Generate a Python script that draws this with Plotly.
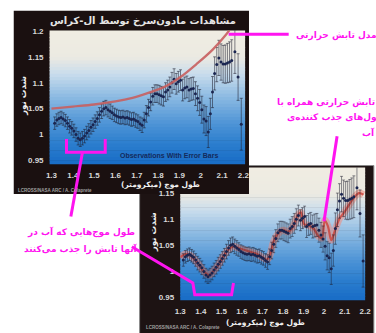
import plotly.graph_objects as go

W, H = 376, 333

# ---------------- data ----------------
obs_wavelength = [1.315, 1.325, 1.335, 1.345, 1.355, 1.365, 1.375, 1.385, 1.395, 1.405,
                  1.415, 1.425, 1.435, 1.445, 1.455, 1.465, 1.475, 1.485, 1.495, 1.505,
                  1.515, 1.525, 1.535, 1.545, 1.555, 1.565, 1.575, 1.585, 1.595, 1.605,
                  1.615, 1.625, 1.635, 1.645, 1.655, 1.665, 1.675, 1.685, 1.695, 1.705,
                  1.715, 1.725, 1.735, 1.745, 1.755, 1.765, 1.775, 1.785, 1.795, 1.805,
                  1.815, 1.825, 1.835, 1.845, 1.855, 1.865, 1.875, 1.885, 1.895, 1.905,
                  1.915, 1.925, 1.935, 1.945, 1.955, 1.965, 1.975, 1.985, 1.995, 2.005,
                  2.015, 2.025, 2.035, 2.045, 2.055, 2.065, 2.075, 2.085, 2.095, 2.105,
                  2.115, 2.125, 2.135, 2.145, 2.160, 2.175, 2.190]
obs_intensity = [1.022, 1.028, 1.031, 1.033, 1.030, 1.027, 1.022, 1.016, 1.012, 1.007,
                 1.000, 0.993, 0.990, 0.993, 0.997, 1.003, 1.008, 1.014, 1.019, 1.025,
                 1.031, 1.038, 1.045, 1.050, 1.052, 1.048, 1.045, 1.042, 1.038, 1.036,
                 1.034, 1.033, 1.034, 1.032, 1.033, 1.031, 1.029, 1.030, 1.027, 1.025,
                 1.021, 1.018, 1.028, 1.040, 1.052, 1.063, 1.074, 1.079, 1.079, 1.077,
                 1.075, 1.073, 1.082, 1.086, 1.092, 1.100, 1.107, 1.098, 1.102, 1.105,
                 1.086, 1.090, 1.092, 1.086, 1.088, 1.089, 1.079, 1.070, 1.062, 1.048,
                 1.030, 1.026, 1.005, 1.040, 1.082, 1.118, 1.135, 1.148, 1.140, 1.136,
                 1.136, 1.138, 1.140, 1.143, 1.160, 1.111, 1.020]
obs_error = [0.012, 0.012, 0.012, 0.012, 0.012, 0.012, 0.012, 0.013, 0.013, 0.013,
             0.013, 0.013, 0.013, 0.013, 0.013, 0.013, 0.013, 0.013, 0.013, 0.013,
             0.013, 0.014, 0.014, 0.014, 0.014, 0.014, 0.014, 0.013, 0.013, 0.013,
             0.013, 0.013, 0.013, 0.013, 0.013, 0.013, 0.013, 0.013, 0.013, 0.013,
             0.013, 0.014, 0.015, 0.016, 0.016, 0.017, 0.017, 0.017, 0.017, 0.018,
             0.018, 0.018, 0.018, 0.019, 0.019, 0.020, 0.020, 0.020, 0.020, 0.020,
             0.021, 0.021, 0.021, 0.022, 0.022, 0.022, 0.023, 0.024, 0.025, 0.026,
             0.027, 0.028, 0.030, 0.030, 0.030, 0.032, 0.033, 0.034, 0.035, 0.036,
             0.037, 0.038, 0.039, 0.040, 0.042, 0.045, 0.050]

thermal_wavelength = [1.30, 1.40, 1.50, 1.60, 1.68, 1.75, 1.83, 1.905, 1.98, 2.056, 2.117, 2.14]
thermal_intensity = [1.050, 1.054, 1.058, 1.064, 1.071, 1.080, 1.092, 1.111, 1.136, 1.164, 1.192, 1.205]

absorb_wavelength = [1.300, 1.323, 1.347, 1.370, 1.394, 1.417, 1.441, 1.464, 1.488, 1.511,
                     1.535, 1.558, 1.582, 1.605, 1.629, 1.652, 1.676, 1.699, 1.723, 1.738,
                     1.754, 1.777, 1.801, 1.824, 1.848, 1.871, 1.887, 1.902, 1.926, 1.949,
                     1.973, 1.989, 2.004, 2.020, 2.035, 2.051, 2.075, 2.098, 2.122, 2.145,
                     2.169, 2.192]
absorb_intensity = [1.027, 1.033, 1.031, 1.023, 1.011, 0.999, 0.993, 1.002, 1.014, 1.030,
                    1.042, 1.048, 1.045, 1.042, 1.039, 1.036, 1.033, 1.027, 1.023, 1.033,
                    1.057, 1.073, 1.079, 1.076, 1.085, 1.107, 1.113, 1.091, 1.088, 1.082,
                    1.067, 1.064, 1.098, 1.085, 1.060, 1.076, 1.101, 1.113, 1.128, 1.141,
                    1.150, 1.147]

x_tickvals = [1.3, 1.4, 1.5, 1.6, 1.7, 1.8, 1.9, 2.0, 2.1, 2.2]
x_ticktext = ["1.3", "1.4", "1.5", "1.6", "1.7", "1.8", "1.9", "2", "2.1", "2.2"]
y_tickvals_top = [0.95, 1.0, 1.05, 1.1, 1.15, 1.2]
y_ticktext_top = ["0.95", "1", "1.05", "1.1", "1.15", "1.2"]
y_tickvals_back = [0.95, 1.0, 1.05, 1.1, 1.15]
y_ticktext_back = ["0.95", "1", "1.05", "1.1", "1.15"]

title_fa = "مشاهدات مادون\u200cسرخ توسط ال-کراس"
xlabel_fa = "طول موج (میکرومتر)"
ylabel_fa = "شدت نور"
credit = "LCROSS/NASA ARC / A. Colaprete"
obs_label = "Observations With Error Bars"
note_model = "مدل تابش حرارتی"
note_abs_lines = ["مدل تابش حرارتی همراه با", "مولکول\u200cهای جذب کننده\u200cی", "آب"]
note_water_lines = ["طول موج\u200cهایی که آب در", "آنها تابش را جذب می\u200cکنند"]

# ---------------- helpers ----------------
def px(x):
    return x / W

def py(y):
    return 1 - y / H

MAG = "#ff14f0"
FA_FONT = "DejaVu Sans"

grad_stops = [(0.0, (240, 237, 226)), (0.2, (236, 234, 226)), (0.33, (200, 220, 236)),
              (0.5, (140, 186, 226)), (0.7, (78, 148, 214)), (0.85, (44, 126, 206)),
              (1.0, (24, 108, 198))]

def grad_color(t):
    for (t0, c0), (t1, c1) in zip(grad_stops[:-1], grad_stops[1:]):
        if t0 <= t <= t1:
            f = (t - t0) / (t1 - t0)
            c = [round(a + (b - a) * f) for a, b in zip(c0, c1)]
            return "rgb(%d,%d,%d)" % tuple(c)
    return "rgb(%d,%d,%d)" % grad_stops[-1][1]

shapes = []

def rect(x0, y0, x1, y1, color, layer="below", line=None):
    shapes.append(dict(type="rect", xref="paper", yref="paper",
                       x0=px(x0), x1=px(x1), y0=py(y1), y1=py(y0),
                       fillcolor=color, layer=layer,
                       line=line or dict(width=0)))

def gradient(x0, y0, x1, y1, n=40):
    h = (y1 - y0) / n
    for i in range(n):
        rect(x0, y0 + i * h, x1, y0 + (i + 1) * h + 0.6, grad_color((i + 0.5) / n))

def pline(pts, width=3):
    path = "M " + " L ".join("%f,%f" % (px(x), py(y)) for x, y in pts)
    shapes.append(dict(type="path", xref="paper", yref="paper", path=path,
                       line=dict(color=MAG, width=width), layer="above"))

# back chart (chart 2) frame + gradient
rect(138, 165, 380, 340, "#1d1313", line=dict(color="#8a8a8a", width=1))
gradient(180, 167, 371, 302)
# front chart (chart 1) frame + gradient
rect(8, 7, 251, 194, "#1a1010")
gradient(45, 27, 247, 163)

# magenta pointer lines
pline([(230, 31), (292, 31)])
pline([(342, 135), (328.5, 222)])
pline([(62.5, 138), (62.5, 151.5), (102.5, 151.5), (102.5, 138)])
pline([(79, 151.5), (67, 217)])
pline([(130, 248), (193, 285), (195, 297), (233, 297), (235, 285)])

fig = go.Figure()

# ---------- back chart (x / y) ----------
fig.add_trace(go.Scatter(x=absorb_wavelength, y=absorb_intensity, mode="lines",
                         line=dict(color="rgba(238,140,128,0.55)", width=7, shape="spline"),
                         xaxis="x", yaxis="y", hoverinfo="skip"))
fig.add_trace(go.Scatter(x=absorb_wavelength, y=absorb_intensity, mode="lines",
                         line=dict(color="rgba(205,70,62,0.85)", width=2.2, shape="spline"),
                         xaxis="x", yaxis="y", hoverinfo="skip"))
fig.add_trace(go.Scatter(x=obs_wavelength, y=obs_intensity, mode="markers",
                         marker=dict(color="#1a2550", size=3),
                         error_y=dict(type="data", array=obs_error, color="rgba(30,30,45,0.5)",
                                      thickness=1, width=1.5),
                         xaxis="x", yaxis="y"))

# ---------- front chart (x2 / y2) ----------
fig.add_trace(go.Scatter(x=obs_wavelength, y=obs_intensity, mode="markers",
                         marker=dict(color="#1a2550", size=3),
                         error_y=dict(type="data", array=obs_error, color="rgba(30,30,45,0.55)",
                                      thickness=1, width=1.5),
                         xaxis="x2", yaxis="y2"))
fig.add_trace(go.Scatter(x=thermal_wavelength, y=thermal_intensity, mode="lines",
                         line=dict(color="rgba(200,95,95,0.9)", width=2.3, shape="spline"),
                         xaxis="x2", yaxis="y2", hoverinfo="skip"))

tickfont = dict(family="Liberation Sans", size=8, color="#d8d8d8", weight="bold")

annotations = []

def txt(x, y, text, size, color, xanchor="center", angle=0, family=FA_FONT, weight="bold"):
    annotations.append(dict(xref="paper", yref="paper", x=px(x), y=py(y), text=text,
                            showarrow=False, xanchor=xanchor, yanchor="middle",
                            textangle=angle,
                            font=dict(family=family, size=size, color=color, weight=weight)))

# back chart texts
txt(152, 233, ylabel_fa, 8.7, "#f0f0f0", angle=-90)
txt(268, 325, xlabel_fa, 7.5, "#f0f0f0")
txt(143, 330, credit, 4.5, "#a0a0a0", xanchor="left", family="Liberation Sans")
# front chart texts
txt(141, 17, title_fa, 10, "#e4e4e4")
txt(17.5, 94, ylabel_fa, 8.7, "#f0f0f0", angle=-90)
txt(160, 184, xlabel_fa, 7.5, "#f0f0f0")
txt(10, 190, credit, 4.5, "#a0a0a0", xanchor="left", family="Liberation Sans")
txt(168, 155, obs_label, 7, "#142a5c", family="Liberation Sans")
# magenta notes
txt(297, 32, note_model, 9, MAG, xanchor="left")
txt(278, 101, note_abs_lines[0], 9, MAG, xanchor="left")
txt(288, 116, note_abs_lines[1], 9, MAG, xanchor="left")
txt(366, 131, note_abs_lines[2], 9, MAG, xanchor="left")
txt(77, 233, note_water_lines[0], 9, MAG)
txt(77, 250, note_water_lines[1], 9, MAG)

axis_common = dict(showgrid=False, zeroline=False, showline=False, ticks="",
                   tickfont=tickfont, ticklabelstandoff=5, fixedrange=True)

fig.update_layout(
    width=W, height=H, margin=dict(l=0, r=0, t=0, b=0),
    paper_bgcolor="white", plot_bgcolor="rgba(0,0,0,0)",
    showlegend=False,
    shapes=shapes, annotations=annotations,
    xaxis=dict(domain=[px(180), px(371)], range=[1.3, 2.2], anchor="y",
               tickvals=x_tickvals, ticktext=x_ticktext, **axis_common),
    yaxis=dict(domain=[py(302), py(167)], range=[0.946, 1.199], anchor="x",
               tickvals=y_tickvals_back, ticktext=y_ticktext_back, **axis_common),
    xaxis2=dict(domain=[px(45), px(247)], range=[1.291, 2.208], anchor="y2",
                tickvals=x_tickvals, ticktext=x_ticktext, **axis_common),
    yaxis2=dict(domain=[py(163), py(27)], range=[0.944, 1.201], anchor="x2",
                tickvals=y_tickvals_top, ticktext=y_ticktext_top, **axis_common),
)

fig.write_html("out.html", config=dict(displayModeBar=False))
